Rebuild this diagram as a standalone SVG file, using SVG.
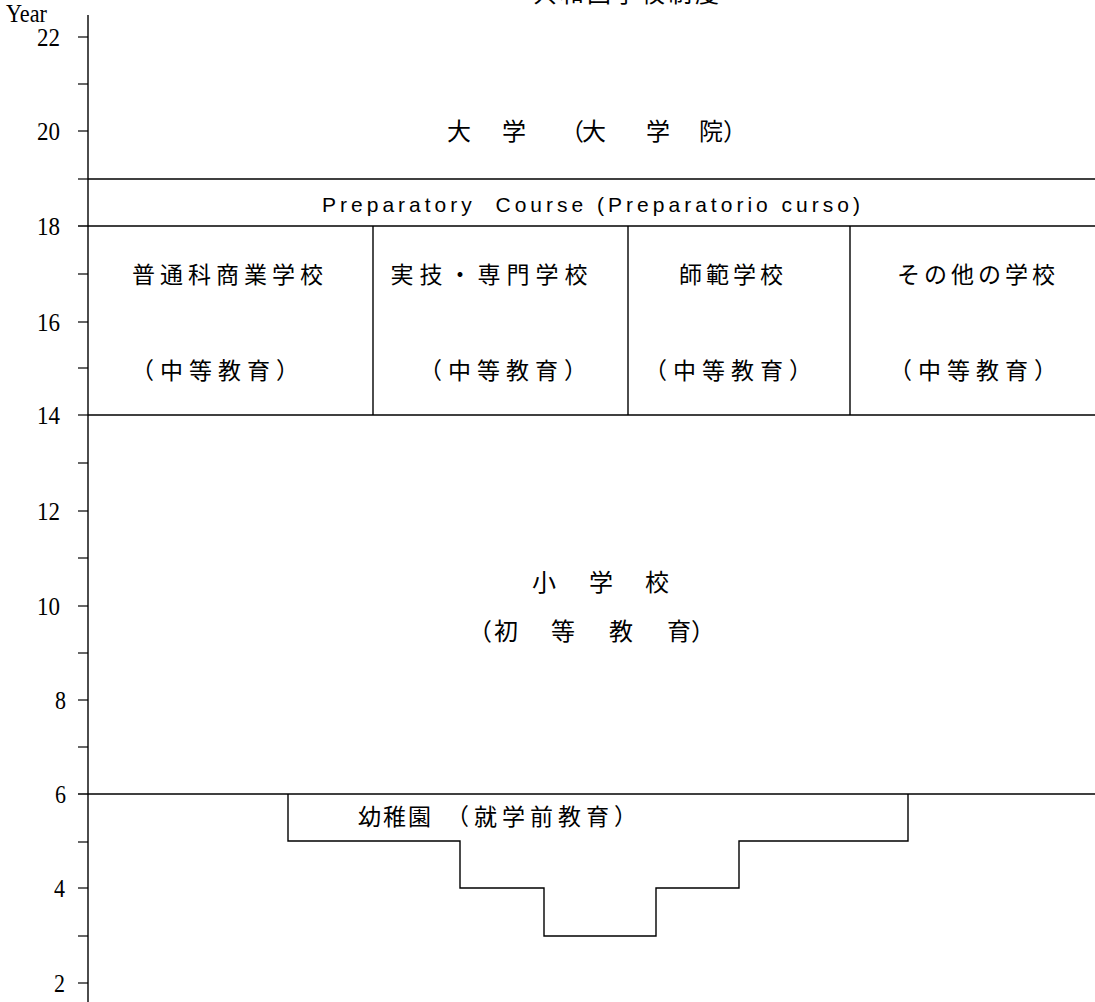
<svg xmlns="http://www.w3.org/2000/svg" width="1095" height="1002" viewBox="0 0 1095 1002">
<style>
.ln{stroke:#000;stroke-width:1.4;fill:none}
.tk{stroke:#000;stroke-width:1.2}
.jp{font-family:"Noto Sans CJK JP","Noto Sans CJK SC",sans-serif;fill:#000}
.num{font-family:"Liberation Serif","Times New Roman",serif;font-size:25px;fill:#000}
.lat{font-family:"Liberation Sans",Arial,sans-serif;font-size:21px;fill:#000}
</style>
<rect width="1095" height="1002" fill="#fff"/>
<g id="title">
<text class="jp" x="533" y="2" font-size="24" letter-spacing="3">共和国学校制度</text>
</g>
<g id="axis">
<line class="ln" x1="88" y1="15" x2="88" y2="1002"/>
<g class="tk">
<line x1="78" y1="37" x2="88" y2="37"/><line x1="78" y1="84" x2="88" y2="84"/>
<line x1="78" y1="131" x2="88" y2="131"/><line x1="78" y1="179" x2="88" y2="179"/>
<line x1="78" y1="274" x2="88" y2="274"/><line x1="78" y1="322" x2="88" y2="322"/>
<line x1="78" y1="368" x2="88" y2="368"/><line x1="78" y1="415" x2="88" y2="415"/>
<line x1="78" y1="463" x2="88" y2="463"/><line x1="78" y1="511" x2="88" y2="511"/>
<line x1="78" y1="558" x2="88" y2="558"/><line x1="78" y1="606" x2="88" y2="606"/>
<line x1="78" y1="653" x2="88" y2="653"/><line x1="78" y1="700" x2="88" y2="700"/>
<line x1="78" y1="747" x2="88" y2="747"/><line x1="78" y1="842" x2="88" y2="842"/>
<line x1="78" y1="888" x2="88" y2="888"/><line x1="78" y1="936" x2="88" y2="936"/>
<line x1="78" y1="983" x2="88" y2="983"/>
</g>
<text class="num" x="6" y="22" font-size="20" textLength="41" lengthAdjust="spacingAndGlyphs">Year</text>
<text class="num" x="37" y="46" textLength="23" lengthAdjust="spacingAndGlyphs">22</text>
<text class="num" x="37" y="140" textLength="23" lengthAdjust="spacingAndGlyphs">20</text>
<text class="num" x="37" y="235" textLength="23" lengthAdjust="spacingAndGlyphs">18</text>
<text class="num" x="37" y="331" textLength="23" lengthAdjust="spacingAndGlyphs">16</text>
<text class="num" x="37" y="424" textLength="23" lengthAdjust="spacingAndGlyphs">14</text>
<text class="num" x="37" y="520" textLength="23" lengthAdjust="spacingAndGlyphs">12</text>
<text class="num" x="37" y="615" textLength="23" lengthAdjust="spacingAndGlyphs">10</text>
<text class="num" x="55" y="709" textLength="11" lengthAdjust="spacingAndGlyphs">8</text>
<text class="num" x="55" y="803" textLength="11" lengthAdjust="spacingAndGlyphs">6</text>
<text class="num" x="54" y="897" textLength="11" lengthAdjust="spacingAndGlyphs">4</text>
<text class="num" x="54" y="992" textLength="11" lengthAdjust="spacingAndGlyphs">2</text>
</g>
<g id="connectors">
<line class="ln" x1="88" y1="179" x2="1095" y2="179"/>
<line class="ln" x1="78" y1="226" x2="1095" y2="226"/>
<line class="ln" x1="88" y1="415" x2="1095" y2="415"/>
<line class="ln" x1="78" y1="794" x2="1095" y2="794"/>
<line class="ln" x1="373" y1="226" x2="373" y2="415"/>
<line class="ln" x1="628" y1="226" x2="628" y2="415"/>
<line class="ln" x1="850" y1="226" x2="850" y2="415"/>
<path class="ln" d="M288,794 V841 H460 V888 H544 V936 H656 V888 H739 V841 H908 V794"/>
</g>
<g id="university">
<text class="jp" y="140" font-size="24"><tspan x="447">大</tspan><tspan x="502">学</tspan><tspan x="560">（</tspan><tspan x="582">大</tspan><tspan x="646">学</tspan><tspan x="699">院</tspan><tspan x="723">）</tspan></text>
</g>
<g id="preparatory">
<text class="lat" x="322" y="212" textLength="538" lengthAdjust="spacing" xml:space="preserve">Preparatory  Course (Preparatorio curso)</text>
</g>
<g id="sec-general">
<text class="jp" x="230" y="283" font-size="23" text-anchor="middle" letter-spacing="5">普通科商業学校</text>
<text class="jp" x="218" y="379" font-size="23" text-anchor="middle" letter-spacing="6">（中等教育）</text>
</g>
<g id="sec-technical">
<text class="jp" x="492" y="283" font-size="23" text-anchor="middle" letter-spacing="6">実技・専門学校</text>
<text class="jp" x="506" y="379" font-size="23" text-anchor="middle" letter-spacing="6">（中等教育）</text>
</g>
<g id="sec-normal">
<text class="jp" x="733" y="283" font-size="23" text-anchor="middle" letter-spacing="4">師範学校</text>
<text class="jp" x="731" y="379" font-size="23" text-anchor="middle" letter-spacing="6">（中等教育）</text>
</g>
<g id="sec-other">
<text class="jp" x="978" y="283" font-size="23" text-anchor="middle" letter-spacing="4">その他の学校</text>
<text class="jp" x="976" y="379" font-size="23" text-anchor="middle" letter-spacing="6">（中等教育）</text>
</g>
<g id="primary">
<text class="jp" y="591" font-size="24"><tspan x="532">小</tspan><tspan x="589">学</tspan><tspan x="645">校</tspan></text>
<text class="jp" y="640" font-size="24"><tspan x="468">（</tspan><tspan x="494">初</tspan><tspan x="551">等</tspan><tspan x="609">教</tspan><tspan x="667">育</tspan><tspan x="691">）</tspan></text>
</g>
<g id="kindergarten">
<text class="jp" x="358" y="825" font-size="23" letter-spacing="2">幼稚園</text>
<text class="jp" x="446" y="825" font-size="23" letter-spacing="5">（就学前教育）</text>
</g>
</svg>
